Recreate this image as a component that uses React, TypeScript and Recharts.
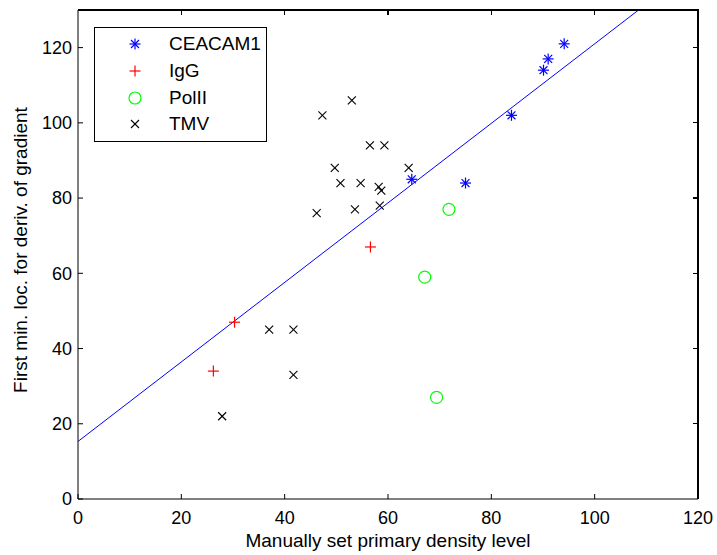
import React from "react";
import { ScatterChart, Scatter, XAxis, YAxis, Legend } from "recharts";

// values
const seriesNames = ["CEACAM1", "IgG", "PolII", "TMV"];

const ceacamX = [94.1, 91.0, 90.1, 83.9, 64.6, 75.0];
const ceacamY = [121, 117, 114, 102, 85, 84];

const iggX = [56.6, 30.3, 26.2];
const iggY = [67, 47, 34];

const polX = [71.8, 67.1, 69.4];
const polY = [77, 59, 27];

const tmvX = [53.0, 47.3, 56.5, 59.3, 49.7, 50.8, 54.7, 58.2, 58.7, 46.2, 53.6, 58.4, 64.0, 37.0, 41.7, 41.7, 27.9];
const tmvY = [106, 102, 94, 94, 88, 84, 84, 83, 82, 76, 77, 78, 88, 45, 45, 33, 22];

// fitted line end points
const fitX = [0, 108.5];
const fitY = [15.3, 130];

const xTicks = [0, 20, 40, 60, 80, 100, 120];
const yTicks = [0, 20, 40, 60, 80, 100, 120];
const xMax = 120;
const yMax = 130;
// inward tick length, in data units (about 5px)
const tickLenX = 0.97;
const tickLenY = 1.35;

const FONT = "'Liberation Sans', Arial, Helvetica, sans-serif";
const FS = 18;
const LABEL_FS = 19;

const toPoints = (xs: number[], ys: number[]) => xs.map((x, i) => ({ x, y: ys[i] }));

const Star = ({ cx, cy, s = 5.5 }: any) => {
  const d = s * 0.72;
  return (
    <g stroke="#0000ff" strokeWidth={1.2}>
      <line x1={cx - s} y1={cy} x2={cx + s} y2={cy} />
      <line x1={cx} y1={cy - s} x2={cx} y2={cy + s} />
      <line x1={cx - d} y1={cy - d} x2={cx + d} y2={cy + d} />
      <line x1={cx - d} y1={cy + d} x2={cx + d} y2={cy - d} />
    </g>
  );
};

const Plus = ({ cx, cy, s = 5.5 }: any) => (
  <g stroke="#ff0000" strokeWidth={1.2}>
    <line x1={cx - s} y1={cy} x2={cx + s} y2={cy} />
    <line x1={cx} y1={cy - s} x2={cx} y2={cy + s} />
  </g>
);

const Circle = ({ cx, cy }: any) => (
  <circle cx={cx} cy={cy} r={6} fill="none" stroke="#00ff00" strokeWidth={1.2} />
);

const Cross = ({ cx, cy, s = 4 }: any) => (
  <g stroke="#000" strokeWidth={1.1}>
    <line x1={cx - s} y1={cy - s} x2={cx + s} y2={cy + s} />
    <line x1={cx - s} y1={cy + s} x2={cx + s} y2={cy - s} />
  </g>
);

const markers: Record<string, any> = {
  CEACAM1: Star,
  IgG: Plus,
  PolII: Circle,
  TMV: Cross,
};

const renderLegend = (props: any) => {
  const items = (props.payload || []).filter((p: any) => seriesNames.includes(p.value));
  return (
    <div
      style={{
        width: 171,
        height: 110,
        border: "1px solid #000",
        background: "#fff",
        fontFamily: FONT,
        fontSize: 19,
        paddingTop: 3,
        boxSizing: "content-box",
      }}
    >
      {items.map((p: any) => {
        const M = markers[p.value];
        return (
          <div key={p.value} style={{ display: "flex", alignItems: "center", height: 26.7 }}>
            <svg width={74} height={26} style={{ display: "block" }}>
              <M cx={40} cy={13} />
            </svg>
            <span style={{ color: "#000", lineHeight: "26px" }}>{p.value}</span>
          </div>
        );
      })}
    </div>
  );
};

const XLabel = ({ viewBox }: any) => (
  <text
    x={viewBox.x + viewBox.width / 2}
    y={547}
    textAnchor="middle"
    fontFamily={FONT}
    fontSize={LABEL_FS}
    fill="#000"
  >
    Manually set primary density level
  </text>
);

const YLabel = () => {
  const cx = 27;
  const cy = 250;
  return (
    <text
      x={cx}
      y={cy}
      transform={`rotate(-90 ${cx} ${cy})`}
      textAnchor="middle"
      fontFamily={FONT}
      fontSize={LABEL_FS}
      fill="#000"
    >
      First min. loc. for deriv. of gradient
    </text>
  );
};

const NoDot = () => <g />;

// frame: top and right edges, plus inward ticks on them
const frameTop = [
  { x: 0, y: yMax },
  { x: xMax, y: yMax },
  { x: xMax, y: 0 },
];
const topTicks = xTicks.slice(1, -1).map((t) => [
  { x: t, y: yMax },
  { x: t, y: yMax - tickLenY },
]);
const rightTicks = yTicks.slice(1).map((t) => [
  { x: xMax, y: t },
  { x: xMax - tickLenX, y: t },
]);

const frameLine = { stroke: "#000", strokeWidth: 1.3, shapeRendering: "crispEdges" };

export default function App() {
  const tickStyle = { fill: "#000", fontSize: FS, fontFamily: FONT };
  return (
    <div style={{ position: "absolute", left: 0, top: 0, background: "#fff" }}>
      <ScatterChart width={717} height={555} margin={{ top: 10, right: 19, bottom: 26, left: 18 }}>
        <XAxis
          type="number"
          dataKey="x"
          domain={[0, xMax]}
          ticks={xTicks}
          interval={0}
          height={30}
          tickSize={-5}
          tickMargin={17}
          stroke="#000"
          tick={tickStyle}
          label={{ content: XLabel }}
        />
        <YAxis
          type="number"
          dataKey="y"
          domain={[0, yMax]}
          ticks={yTicks}
          interval={0}
          width={60}
          tickSize={-5}
          tickMargin={11}
          stroke="#000"
          tick={tickStyle}
          label={{ content: YLabel }}
        />
        <Legend
          layout="horizontal"
          verticalAlign="middle"
          align="center"
          content={renderLegend}
          wrapperStyle={{ position: "absolute", left: 94, top: 27, width: 173, height: 115 }}
        />
        <Scatter
          name="frame"
          data={frameTop}
          line={frameLine}
          shape={NoDot}
          legendType="none"
          isAnimationActive={false}
        />
        {topTicks.map((d, i) => (
          <Scatter key={"tt" + i} name={"tt" + i} data={d} line={frameLine} shape={NoDot} legendType="none" isAnimationActive={false} />
        ))}
        {rightTicks.map((d, i) => (
          <Scatter key={"rt" + i} name={"rt" + i} data={d} line={frameLine} shape={NoDot} legendType="none" isAnimationActive={false} />
        ))}
        <Scatter
          name="fit"
          data={toPoints(fitX, fitY)}
          line={{ stroke: "#0000ff", strokeWidth: 1 }}
          shape={NoDot}
          legendType="none"
          isAnimationActive={false}
        />
        <Scatter name="CEACAM1" data={toPoints(ceacamX, ceacamY)} fill="#0000ff" shape={(p: any) => <Star cx={p.cx} cy={p.cy} />} isAnimationActive={false} />
        <Scatter name="IgG" data={toPoints(iggX, iggY)} fill="#ff0000" shape={(p: any) => <Plus cx={p.cx} cy={p.cy} />} isAnimationActive={false} />
        <Scatter name="PolII" data={toPoints(polX, polY)} fill="#00ff00" shape={(p: any) => <Circle cx={p.cx} cy={p.cy} />} isAnimationActive={false} />
        <Scatter name="TMV" data={toPoints(tmvX, tmvY)} fill="#000" shape={(p: any) => <Cross cx={p.cx} cy={p.cy} />} isAnimationActive={false} />
      </ScatterChart>
    </div>
  );
}
